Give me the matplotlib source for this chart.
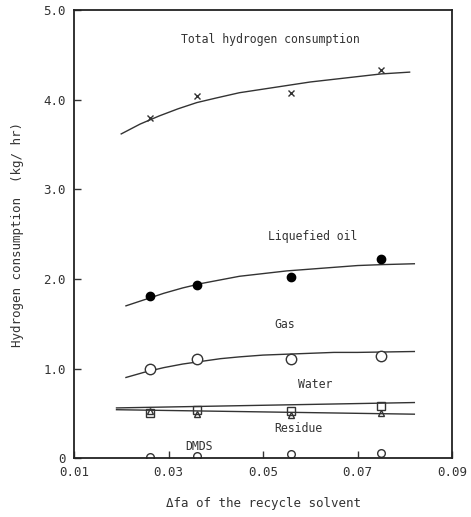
import matplotlib.pyplot as plt

# measured points
x_pts = [0.026, 0.036, 0.056, 0.075]
total = [3.80, 4.04, 4.08, 4.33]
liquefied = [1.81, 1.93, 2.02, 2.22]
gas = [0.99, 1.11, 1.11, 1.14]
water = [0.50, 0.54, 0.53, 0.58]
residue = [0.52, 0.49, 0.48, 0.50]
dmds = [0.015, 0.025, 0.04, 0.06]

# fitted curves
total_cx = [0.020, 0.024, 0.028, 0.032, 0.036, 0.040, 0.045, 0.050, 0.055, 0.060, 0.065, 0.070, 0.075, 0.081]
total_cy = [3.62, 3.73, 3.82, 3.90, 3.97, 4.02, 4.08, 4.12, 4.16, 4.20, 4.23, 4.26, 4.29, 4.31]
liq_cx = [0.021, 0.025, 0.029, 0.033, 0.037, 0.041, 0.045, 0.050, 0.055, 0.060, 0.065, 0.070, 0.075, 0.082]
liq_cy = [1.70, 1.77, 1.84, 1.90, 1.95, 1.99, 2.03, 2.06, 2.09, 2.11, 2.13, 2.15, 2.16, 2.17]
gas_cx = [0.021, 0.025, 0.029, 0.033, 0.037, 0.041, 0.045, 0.050, 0.055, 0.060, 0.065, 0.070, 0.082]
gas_cy = [0.90, 0.96, 1.01, 1.05, 1.08, 1.11, 1.13, 1.15, 1.16, 1.17, 1.18, 1.18, 1.19]
water_cx = [0.019, 0.082]
water_cy = [0.56, 0.62]
residue_cx = [0.019, 0.082]
residue_cy = [0.54, 0.49]

xticks = [0.01, 0.03, 0.05, 0.07, 0.09]
xticklabels = ['0.01', '0.03', '0.05', '0.07', '0.09']
yticks = [0, 1, 2, 3, 4, 5]
yticklabels = ['0', '1.0', '2.0', '3.0', '4.0', '5.0']

plt.rcParams['font.family'] = 'DejaVu Sans Mono'

fig = plt.figure(figsize=(4.71, 5.17), dpi=100)
ax = fig.add_axes([0.157, 0.114, 0.803, 0.866])

lw = 1.0
ink = '#333333'
ax.plot(total_cx, total_cy, color=ink, lw=lw)
ax.plot(liq_cx, liq_cy, color=ink, lw=lw)
ax.plot(gas_cx, gas_cy, color=ink, lw=lw)
ax.plot(water_cx, water_cy, color=ink, lw=lw)
ax.plot(residue_cx, residue_cy, color=ink, lw=lw)

ax.plot(x_pts, total, 'x', color=ink, ms=4, mew=1)
ax.plot(x_pts, liquefied, 'o', color='black', ms=6)
ax.plot(x_pts, gas, 'o', mfc='white', mec=ink, ms=7.5, mew=1)
ax.plot(x_pts, water, 's', mfc='none', mec=ink, ms=6, mew=1)
ax.plot(x_pts, residue, '^', mfc='none', mec=ink, ms=4, mew=1)
ax.plot(x_pts, dmds, 'o', mfc='white', mec=ink, ms=5.5, mew=1)

fs = 8.3
ax.text(0.0515, 4.67, 'Total hydrogen consumption', fontsize=fs, ha='center', va='center', color=ink)
ax.text(0.0605, 2.47, 'Liquefied oil', fontsize=fs, ha='center', va='center', color=ink)
ax.text(0.0545, 1.49, 'Gas', fontsize=fs, ha='center', va='center', color=ink)
ax.text(0.061, 0.82, 'Water', fontsize=fs, ha='center', va='center', color=ink)
ax.text(0.0575, 0.33, 'Residue', fontsize=fs, ha='center', va='center', color=ink)
ax.text(0.0365, 0.13, 'DMDS', fontsize=fs, ha='center', va='center', color=ink)

ax.set_xlim(0.01, 0.09)
ax.set_ylim(0, 5.0)
ax.set_xticks(xticks)
ax.set_xticklabels(xticklabels)
ax.set_yticks(yticks)
ax.set_yticklabels(yticklabels)
ax.tick_params(direction='in', length=5, width=1, labelsize=9, colors=ink, pad=6)
for s in ax.spines.values():
    s.set_linewidth(1.3)
    s.set_color('#222222')

ax.set_xlabel('\u0394fa of the recycle solvent', fontsize=9, color=ink, labelpad=13)
ax.set_ylabel('Hydrogen consumption  (kg/ hr)', fontsize=9, color=ink, labelpad=14)

fig.savefig('out.png', dpi=100)
